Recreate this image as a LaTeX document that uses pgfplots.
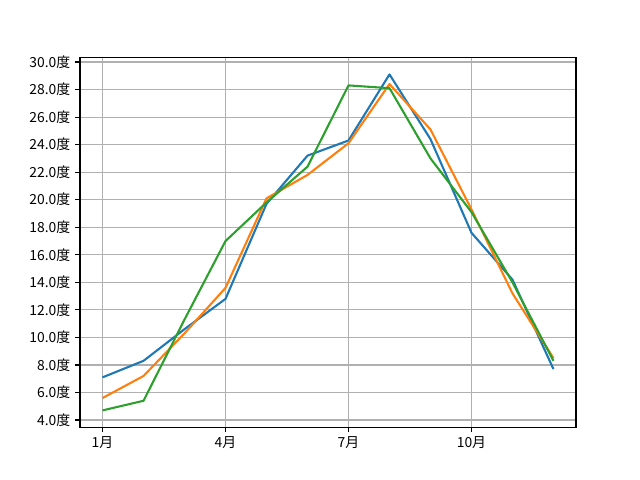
\documentclass[border=0pt]{standalone}
\usepackage{fontspec}
\setmainfont{Noto Sans CJK JP}
\usepackage{pgfplots}
\pgfplotsset{compat=1.18}

\definecolor{c0}{HTML}{1F77B4}
\definecolor{c1}{HTML}{FF7F0E}
\definecolor{c2}{HTML}{2CA02C}
\definecolor{gridc}{HTML}{B0B0B0}

\begin{document}
\begin{tikzpicture}
\path[use as bounding box] (0pt,0pt) rectangle (460.8pt,345.6pt);
\begin{axis}[
    at={(57.6pt,38.016pt)}, anchor=south west,
    scale only axis,
    width=357.12pt, height=266.11pt,
    xmin=0.45, xmax=12.55,
    ymin=3.48, ymax=30.32,
    xtick={1,4,7,10},
    xticklabels={1月,4月,7月,10月},
    ytick={4,6,...,30},
    yticklabels={4.0度,6.0度,8.0度,10.0度,12.0度,14.0度,16.0度,18.0度,20.0度,22.0度,24.0度,26.0度,28.0度,30.0度},
    xtick pos=bottom, ytick pos=left,
    tick label style={font=\fontsize{10}{12}\selectfont},
    tick align=outside,
    major tick length=3.5pt,
    every tick/.style={black, line width=0.8pt},
    axis line style={line width=0.8pt},
    xmajorgrids, ymajorgrids,
    grid style={gridc, line width=0.8pt},
    every axis plot/.append style={line width=1.5pt, mark=none, line join=round},
]
\addplot[c0] coordinates {
(1,7.1) (2,8.3) (3,10.6) (4,12.8) (5,19.7) (6,23.2)
(7,24.3) (8,29.1) (9,24.4) (10,17.6) (11,14.2) (12,7.7)
};
\addplot[c1] coordinates {
(1,5.6) (2,7.2) (3,10.3) (4,13.6) (5,20.1) (6,21.8)
(7,24.1) (8,28.4) (9,25.1) (10,19.3) (11,13.2) (12,8.5)
};
\addplot[c2] coordinates {
(1,4.7) (2,5.4) (3,11.3) (4,17.0) (5,19.8) (6,22.4)
(7,28.3) (8,28.1) (9,23.0) (10,19.1) (11,14.0) (12,8.3)
};
\end{axis}
\end{tikzpicture}
\end{document}
